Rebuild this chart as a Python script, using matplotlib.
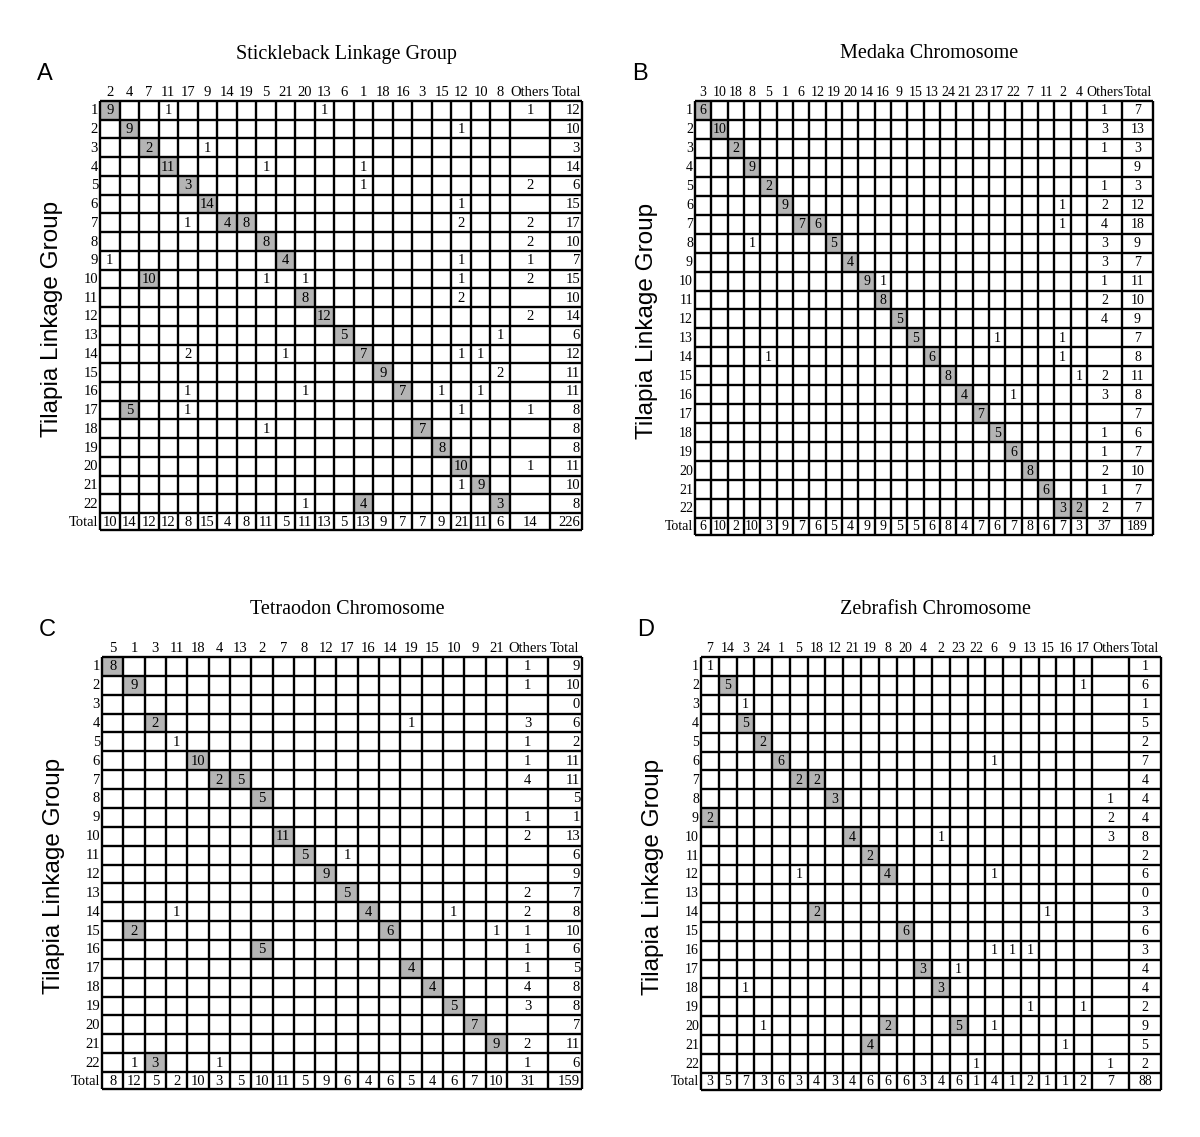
import matplotlib.pyplot as plt
from matplotlib.patches import Rectangle

plt.rcParams['font.family'] = ['Liberation Serif', 'DejaVu Serif']

# ---------------- data ----------------
# A: Stickleback linkage group
cols_A = [2, 4, 7, 11, 17, 9, 14, 19, 5, 21, 20, 13, 6, 1, 18, 16, 3, 15, 12, 10, 8]
cells_A = {
    1: {2: 9, 11: 1, 13: 1}, 2: {4: 9, 12: 1}, 3: {7: 2, 9: 1}, 4: {11: 11, 5: 1, 1: 1},
    5: {17: 3, 1: 1}, 6: {9: 14, 12: 1}, 7: {17: 1, 14: 4, 19: 8, 12: 2}, 8: {5: 8},
    9: {2: 1, 21: 4, 12: 1}, 10: {7: 10, 5: 1, 20: 1, 12: 1}, 11: {20: 8, 12: 2},
    12: {13: 12}, 13: {6: 5, 8: 1}, 14: {17: 2, 21: 1, 1: 7, 12: 1, 10: 1},
    15: {18: 9, 8: 2}, 16: {17: 1, 20: 1, 16: 7, 15: 1, 10: 1}, 17: {4: 5, 17: 1, 12: 1},
    18: {5: 1, 3: 7}, 19: {15: 8}, 20: {12: 10}, 21: {12: 1, 10: 9}, 22: {20: 1, 1: 4, 8: 3},
}
shaded_A = [(1, 2), (2, 4), (3, 7), (4, 11), (5, 17), (6, 9), (7, 14), (7, 19), (8, 5),
            (9, 21), (10, 7), (11, 20), (12, 13), (13, 6), (14, 1), (15, 18), (16, 16),
            (17, 4), (18, 3), (19, 15), (20, 12), (21, 10), (22, 1), (22, 8)]
others_A = [1, None, None, None, 2, None, 2, 2, 1, 2, None, 2, None, None, None, None,
            1, None, None, 1, None, None]
rowtot_A = [12, 10, 3, 14, 6, 15, 17, 10, 7, 15, 10, 14, 6, 12, 11, 11, 8, 8, 8, 11, 10, 8]
coltot_A = [10, 14, 12, 12, 8, 15, 4, 8, 11, 5, 11, 13, 5, 13, 9, 7, 7, 9, 21, 11, 6]
othtot_A, grand_A = 14, 226

# B: Medaka chromosome
cols_B = [3, 10, 18, 8, 5, 1, 6, 12, 19, 20, 14, 16, 9, 15, 13, 24, 21, 23, 17, 22, 7, 11, 2, 4]
cells_B = {
    1: {3: 6}, 2: {10: 10}, 3: {18: 2}, 4: {8: 9}, 5: {5: 2}, 6: {1: 9, 2: 1},
    7: {6: 7, 12: 6, 2: 1}, 8: {8: 1, 19: 5}, 9: {20: 4}, 10: {14: 9, 16: 1}, 11: {16: 8},
    12: {9: 5}, 13: {15: 5, 17: 1, 2: 1}, 14: {5: 1, 13: 6, 2: 1}, 15: {24: 8, 4: 1},
    16: {21: 4, 22: 1}, 17: {23: 7}, 18: {17: 5}, 19: {22: 6}, 20: {7: 8}, 21: {11: 6},
    22: {2: 3, 4: 2},
}
shaded_B = [(1, 3), (2, 10), (3, 18), (4, 8), (5, 5), (6, 1), (7, 6), (7, 12), (8, 19),
            (9, 20), (10, 14), (11, 16), (12, 9), (13, 15), (14, 13), (15, 24), (16, 21),
            (17, 23), (18, 17), (19, 22), (20, 7), (21, 11), (22, 2), (22, 4)]
others_B = [1, 3, 1, None, 1, 2, 4, 3, 3, 1, 2, 4, None, None, 2, 3, None, 1, 1, 2, 1, 2]
rowtot_B = [7, 13, 3, 9, 3, 12, 18, 9, 7, 11, 10, 9, 7, 8, 11, 8, 7, 6, 7, 10, 7, 7]
coltot_B = [6, 10, 2, 10, 3, 9, 7, 6, 5, 4, 9, 9, 5, 5, 6, 8, 4, 7, 6, 7, 8, 6, 7, 3]
othtot_B, grand_B = 37, 189

# C: Tetraodon chromosome
cols_C = [5, 1, 3, 11, 18, 4, 13, 2, 7, 8, 12, 17, 16, 14, 19, 15, 10, 9, 21]
cells_C = {
    1: {5: 8}, 2: {1: 9}, 4: {3: 2, 19: 1}, 5: {11: 1}, 6: {18: 10}, 7: {4: 2, 13: 5},
    8: {2: 5}, 10: {7: 11}, 11: {8: 5, 17: 1}, 12: {12: 9}, 13: {17: 5},
    14: {11: 1, 16: 4, 10: 1}, 15: {1: 2, 14: 6, 21: 1}, 16: {2: 5}, 17: {19: 4},
    18: {15: 4}, 19: {10: 5}, 20: {9: 7}, 21: {21: 9}, 22: {1: 1, 3: 3, 4: 1},
}
shaded_C = [(1, 5), (2, 1), (4, 3), (6, 18), (7, 4), (7, 13), (8, 2), (10, 7), (11, 8),
            (12, 12), (13, 17), (14, 16), (15, 1), (15, 14), (16, 2), (17, 19), (18, 15),
            (19, 10), (20, 9), (21, 21), (22, 3)]
others_C = [1, 1, None, 3, 1, 1, 4, None, 1, 2, None, None, 2, 2, 1, 1, 1, 4, 3, None, 2, 1]
rowtot_C = [9, 10, 0, 6, 2, 11, 11, 5, 1, 13, 6, 9, 7, 8, 10, 6, 5, 8, 8, 7, 11, 6]
coltot_C = [8, 12, 5, 2, 10, 3, 5, 10, 11, 5, 9, 6, 4, 6, 5, 4, 6, 7, 10]
othtot_C, grand_C = 31, 159

# D: Zebrafish chromosome
cols_D = [7, 14, 3, 24, 1, 5, 18, 12, 21, 19, 8, 20, 4, 2, 23, 22, 6, 9, 13, 15, 16, 17]
cells_D = {
    1: {7: 1}, 2: {14: 5, 17: 1}, 3: {3: 1}, 4: {3: 5}, 5: {24: 2}, 6: {1: 6, 6: 1},
    7: {5: 2, 18: 2}, 8: {12: 3}, 9: {7: 2}, 10: {21: 4, 2: 1}, 11: {19: 2},
    12: {5: 1, 8: 4, 6: 1}, 14: {18: 2, 15: 1}, 15: {20: 6}, 16: {6: 1, 9: 1, 13: 1},
    17: {4: 3, 23: 1}, 18: {3: 1, 2: 3}, 19: {13: 1, 17: 1}, 20: {24: 1, 8: 2, 23: 5, 6: 1},
    21: {19: 4, 16: 1}, 22: {22: 1},
}
shaded_D = [(2, 14), (4, 3), (5, 24), (6, 1), (7, 5), (7, 18), (8, 12), (9, 7), (10, 21),
            (11, 19), (12, 8), (14, 18), (15, 20), (17, 4), (18, 2), (20, 8), (20, 23), (21, 19)]
others_D = [None] * 7 + [1, 2, 3] + [None] * 11 + [1]
rowtot_D = [1, 6, 1, 5, 2, 7, 4, 4, 4, 8, 2, 6, 0, 3, 6, 3, 4, 4, 2, 9, 5, 2]
coltot_D = [3, 5, 7, 3, 6, 3, 4, 3, 4, 6, 6, 6, 3, 4, 6, 1, 4, 1, 2, 1, 1, 2]
othtot_D, grand_D = 7, 88

# ---------------- drawing ----------------
W, H = 1200, 1137
fig = plt.figure(figsize=(W / 100, H / 100), dpi=100)
ax = fig.add_axes([0, 0, 1, 1])
ax.set_xlim(0, W)
ax.set_ylim(H, 0)
ax.axis('off')

GRAY = '#b4b4b4'


def draw_panel(cols, cells, shaded, others, rowtot, coltot, othtot, grand,
               box, title, letter, tot_right, fs):
    left, xdata, xoth, xtot, top, bottom = box
    ncol = len(cols)
    cw = (xdata - left) / ncol
    rh = (bottom - top) / 22.9
    xe = [left + i * cw for i in range(ncol + 1)] + [xoth, xtot]
    ye = [top + i * rh for i in range(23)] + [bottom]
    xc = [(xe[i] + xe[i + 1]) / 2 for i in range(len(xe) - 1)]
    yc = [(ye[i] + ye[i + 1]) / 2 + 0.5 for i in range(len(ye) - 1)]

    for r, c in shaded:
        j = cols.index(c)
        ax.add_patch(Rectangle((xe[j], ye[r - 1]), cw, rh, color=GRAY, lw=0))

    ax.vlines(xe, top, bottom, color='black', lw=1.7)
    ax.hlines(ye, left, xtot, color='black', lw=1.7)

    # headers
    for j, c in enumerate(cols):
        ax.text(xc[j], top - 2, str(c), ha='center', va='bottom', fontsize=fs)
    ax.text(xc[ncol], top - 2, 'Others', ha='center', va='bottom', fontsize=fs)
    ax.text(xc[ncol + 1], top - 2, 'Total', ha='center', va='bottom', fontsize=fs)

    # row labels
    for i in range(22):
        ax.text(left - 2, yc[i], str(i + 1), ha='right', va='center', fontsize=fs)
    ax.text(left - 2, yc[22], 'Total', ha='right', va='center', fontsize=fs)

    # cells
    for r, row in cells.items():
        for c, v in row.items():
            j = cols.index(c)
            ax.text(xc[j], yc[r - 1], str(v), ha='center', va='center', fontsize=fs)
    for i in range(22):
        if others[i] is not None:
            ax.text(xc[ncol], yc[i], str(others[i]), ha='center', va='center', fontsize=fs)
        if tot_right:
            ax.text(xtot - 2, yc[i], str(rowtot[i]), ha='right', va='center', fontsize=fs)
        else:
            ax.text(xc[ncol + 1], yc[i], str(rowtot[i]), ha='center', va='center', fontsize=fs)
    for j, v in enumerate(coltot):
        ax.text(xc[j], yc[22], str(v), ha='center', va='center', fontsize=fs)
    ax.text(xc[ncol], yc[22], str(othtot), ha='center', va='center', fontsize=fs)
    if tot_right:
        ax.text(xtot - 2, yc[22], str(grand), ha='right', va='center', fontsize=fs)
    else:
        ax.text(xc[ncol + 1], yc[22], str(grand), ha='center', va='center', fontsize=fs)

    # title, letter, y label
    ax.text((left + xtot) / 2 + 5, top - 47, title, ha='center', va='center', fontsize=14.5)
    ax.text(left - 55, top - 27, letter, ha='center', va='center', fontsize=17,
            family='Liberation Sans')
    ax.text(left - 48, (top + bottom) / 2 + 3, 'Tilapia Linkage Group', rotation=90,
            ha='center', va='center', fontsize=17.5, family='Liberation Sans')


draw_panel(cols_A, cells_A, shaded_A, others_A, rowtot_A, coltot_A, othtot_A, grand_A,
           (100, 510, 550, 582, 101, 530), 'Stickleback Linkage Group', 'A', True, 10.5)
draw_panel(cols_B, cells_B, shaded_B, others_B, rowtot_B, coltot_B, othtot_B, grand_B,
           (695, 1087, 1122, 1153, 101, 535), 'Medaka Chromosome', 'B', False, 10)
draw_panel(cols_C, cells_C, shaded_C, others_C, rowtot_C, coltot_C, othtot_C, grand_C,
           (102, 507, 548, 582, 657, 1089), 'Tetraodon Chromosome', 'C', True, 10.5)
draw_panel(cols_D, cells_D, shaded_D, others_D, rowtot_D, coltot_D, othtot_D, grand_D,
           (701, 1092, 1129, 1161, 657, 1090), 'Zebrafish Chromosome', 'D', False, 10)

fig.savefig('out.png', dpi=100)
